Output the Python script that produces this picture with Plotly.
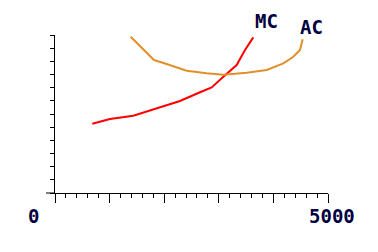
import plotly.graph_objects as go

# Marginal cost (MC) curve
mc_q = [683, 1007, 1434, 1862, 2289, 2656, 2870, 3083, 3327, 3480, 3632]
mc_c = [5.26, 5.62, 5.87, 6.43, 6.99, 7.65, 8.02, 8.83, 9.72, 10.86, 11.82]

# Average cost (AC) curve
ac_q = [1386, 1618, 1813, 2045, 2411, 2777, 3083, 3511, 3877, 4182, 4365, 4487, 4536]
ac_c = [11.87, 10.91, 10.10, 9.80, 9.29, 9.09, 8.99, 9.14, 9.34, 9.85, 10.35, 10.86, 11.67]

x_labels = ["0", "5000"]
x_label_pos = [-0.077, 1.015]
curve_names = ["MC", "AC"]
curve_label_pos = [(0.773, 1.089), (0.941, 1.051)]

navy = "#000040"
font = dict(family="DejaVu Sans Mono", size=19, color=navy)

fig = go.Figure()
fig.add_trace(go.Scatter(x=mc_q, y=mc_c, mode="lines",
                         line=dict(color="#ff0000", width=2), name="MC"))
fig.add_trace(go.Scatter(x=ac_q, y=ac_c, mode="lines",
                         line=dict(color="#e0902a", width=2), name="AC"))

for lab, xp in zip(x_labels, x_label_pos):
    fig.add_annotation(xref="paper", yref="paper", x=xp, y=-0.146,
                       text="<b>" + lab + "</b>", showarrow=False,
                       font=font, xanchor="center", yanchor="middle")

for lab, (xp, yp) in zip(curve_names, curve_label_pos):
    fig.add_annotation(xref="paper", yref="paper", x=xp, y=yp,
                       text="<b>" + lab + "</b>", showarrow=False,
                       font=font, xanchor="center", yanchor="middle")

# small extension of the x-axis line to the left of the y-axis
fig.add_shape(type="line", xref="paper", yref="paper", x0=-9/273, x1=0, y0=0, y1=0,
              line=dict(color="black", width=1))

fig.update_xaxes(range=[0, 5000], showgrid=False, zeroline=False, showline=True,
                 linecolor="black", linewidth=1, ticks="outside", tickcolor="black",
                 ticklen=9, tickwidth=1, dtick=1000, tick0=0, showticklabels=False,
                 minor=dict(dtick=200, tick0=0, ticks="outside", ticklen=4,
                            tickcolor="black", tickwidth=1, showgrid=False))
fig.update_yaxes(range=[0, 12], showgrid=False, zeroline=False, showline=True,
                 linecolor="black", linewidth=1, ticks="outside", tickcolor="black",
                 ticklen=4, tickwidth=1, dtick=1, tick0=0, showticklabels=False)

fig.update_layout(width=378, height=252, margin=dict(l=55, r=50, t=35, b=59),
                  paper_bgcolor="white", plot_bgcolor="white", showlegend=False)

fig.write_html("out.html")
